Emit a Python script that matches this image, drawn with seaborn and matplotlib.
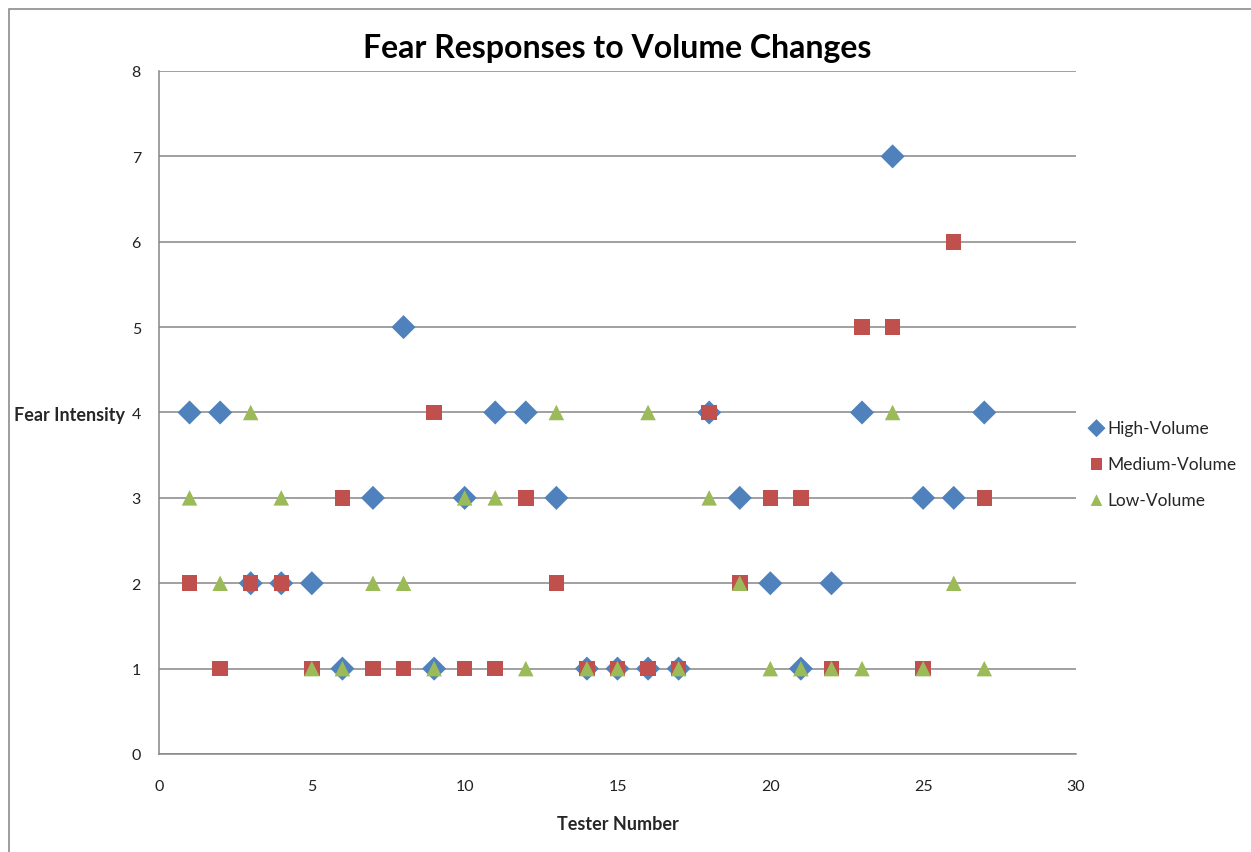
import matplotlib
matplotlib.use("Agg")
import matplotlib.pyplot as plt
import seaborn as sns
import pandas as pd
from matplotlib.patches import Rectangle

# Tester numbers and fear-intensity ratings per volume condition
testers = list(range(1, 28))
high_volume = [4, 4, 2, 2, 2, 1, 3, 5, 1, 3, 4, 4, 3, 1, 1, 1, 1, 4, 3, 2, 1, 2, 4, 7, 3, 3, 4]
medium_volume = [2, 1, 2, 2, 1, 3, 1, 1, 4, 1, 1, 3, 2, 1, 1, 1, 1, 4, 2, 3, 3, 1, 5, 5, 1, 6, 3]
low_volume = [3, 2, 4, 3, 1, 1, 2, 2, 1, 3, 3, 1, 4, 1, 1, 4, 1, 3, 2, 1, 1, 1, 1, 4, 1, 2, 1]

series_names = ["High-Volume", "Medium-Volume", "Low-Volume"]
series_values = [high_volume, medium_volume, low_volume]
colors = ["#4F81BD", "#C0504D", "#9BBB59"]
markers = ["D", "s", "^"]
sizes = [150, 125, 125]

sns.set_theme(style="white")
plt.rcParams["font.family"] = ["Lato", "DejaVu Sans"]

fig = plt.figure(figsize=(12.51, 8.53), dpi=100)
ax = fig.add_axes([0.1271, 0.1149, 0.7330, 0.8007])

# chart-area frame
fig.patches.append(Rectangle((9 / 1251, -0.05), 1.2, 1 - 10 / 853 + 0.05,
                             transform=fig.transFigure, fill=False,
                             edgecolor="#8c8c8c", linewidth=1.2, zorder=0))

for name, vals, c, m, s in zip(series_names, series_values, colors, markers, sizes):
    df = pd.DataFrame({"Tester Number": testers, "Fear Intensity": vals})
    sns.scatterplot(data=df, x="Tester Number", y="Fear Intensity", ax=ax,
                    color=c, marker=m, s=s, edgecolor="none", label=name,
                    zorder=3)

ax.set_xlim(0, 30)
ax.set_ylim(0, 8)
ax.set_xticks(range(0, 31, 5))
ax.set_yticks(range(0, 9))
ax.yaxis.grid(True, color="#868686", linewidth=1.1)
ax.xaxis.grid(False)
ax.set_axisbelow(True)
for side in ["top", "right"]:
    ax.spines[side].set_visible(False)
for side in ["left", "bottom"]:
    ax.spines[side].set_color("#868686")
    ax.spines[side].set_linewidth(1.1)
ax.tick_params(axis="both", which="major", direction="out", length=4,
               width=1.1, color="#868686", labelsize=11.5, labelcolor="#222222")
ax.tick_params(axis="x", pad=14)
ax.tick_params(axis="y", pad=9)

ax.set_title("Fear Responses to Volume Changes", fontsize=23, fontweight="bold",
             pad=10, color="black")
ax.set_xlabel("Tester Number", fontsize=13, fontweight="bold", labelpad=16)
ax.set_ylabel("")
fig.text(125 / 1251, 1 - 415 / 853, "Fear Intensity", ha="right", va="center",
         fontsize=13, fontweight="bold")

leg = ax.legend(loc="center left", bbox_to_anchor=(1.011, 0.425), frameon=False,
                fontsize=12.5, handletextpad=0.05, handlelength=1.2,
                labelspacing=1.15, markerscale=0.75, borderaxespad=0,
                borderpad=0)

fig.savefig("out.png", dpi=100, facecolor="white")
